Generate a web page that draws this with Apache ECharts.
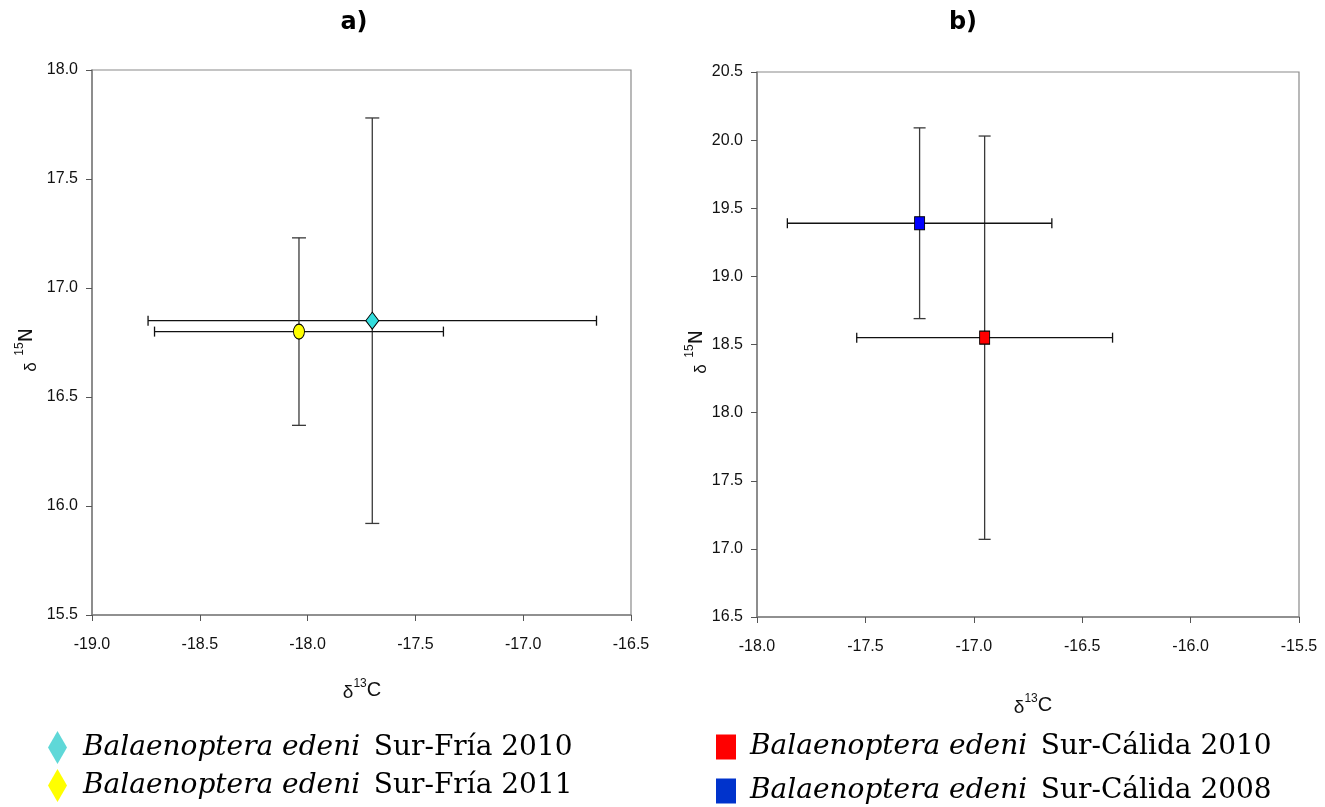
<!DOCTYPE html>
<html>
<head>
<meta charset="utf-8">
<title>Balaenoptera edeni δ13C / δ15N</title>
<script src="https://cdn.jsdelivr.net/npm/echarts@6/dist/echarts.min.js"></script>
<style>
  html, body { margin: 0; padding: 0; background: #fff; }
  #chart { width: 1325px; height: 807px; }
</style>
</head>
<body>
<div id="chart"></div>
<script>
// Group labels
const speciesName = 'Balaenoptera edeni';
const groupsA = ['Sur-Fría 2010', 'Sur-Fría 2011'];
const groupsB = ['Sur-Cálida 2010', 'Sur-Cálida 2008'];

// Means and standard deviations: [δ13C, δ15N, sd δ13C, sd δ15N]
const friaA2010 = [-17.70, 16.85, 1.04, 0.93];
const friaA2011 = [-18.04, 16.80, 0.67, 0.43];
const calidaB2010 = [-16.95, 18.55, 0.59, 1.48];
const calidaB2008 = [-17.25, 19.39, 0.61, 0.70];

// Axis ranges [min, max, step]
const xRangeA = [-19.0, -16.5, 0.5];
const yRangeA = [15.5, 18.0, 0.5];
const xRangeB = [-18.0, -15.5, 0.5];
const yRangeB = [16.5, 20.5, 0.5];

const tickFont = '"Liberation Sans Narrow", "Arial Narrow", "Liberation Sans", Arial, sans-serif';
const serifFont = '"DejaVu Serif", "Bookman Old Style", serif';

const chart = echarts.init(document.getElementById('chart'));

function fullName(g) { return speciesName + ' ' + g; }

function valueAxis(range, gridIndex, margin) {
  return {
    type: 'value',
    gridIndex: gridIndex,
    min: range[0],
    max: range[1],
    interval: range[2],
    splitLine: { show: false },
    axisLine: { show: true, lineStyle: { color: '#7f7f7f', width: 1.5 } },
    axisTick: { show: true, length: 6, lineStyle: { color: '#555', width: 1 } },
    axisLabel: {
      color: '#111',
      fontFamily: tickFont,
      fontSize: 16,
      margin: margin,
      formatter: v => v.toFixed(1)
    }
  };
}

// Cross-shaped error bars with end caps
function errorBars(gridIndex, row, capH, capV) {
  return {
    type: 'custom',
    name: 'sd',
    xAxisIndex: gridIndex,
    yAxisIndex: gridIndex,
    z: 2,
    silent: true,
    data: [row],
    renderItem: function (params, api) {
      const x = api.value(0), y = api.value(1), ex = api.value(2), ey = api.value(3);
      const l = api.coord([x - ex, y]);
      const r = api.coord([x + ex, y]);
      const t = api.coord([x, y + ey]);
      const b = api.coord([x, y - ey]);
      const h = { stroke: '#111', lineWidth: 1.3 };
      const v = { stroke: '#3a3a3a', lineWidth: 1.3 };
      return {
        type: 'group',
        children: [
          { type: 'line', shape: { x1: l[0], y1: l[1], x2: r[0], y2: r[1] }, style: h },
          { type: 'line', shape: { x1: l[0], y1: l[1] - capH, x2: l[0], y2: l[1] + capH }, style: h },
          { type: 'line', shape: { x1: r[0], y1: r[1] - capH, x2: r[0], y2: r[1] + capH }, style: h },
          { type: 'line', shape: { x1: t[0], y1: t[1], x2: b[0], y2: b[1] }, style: v },
          { type: 'line', shape: { x1: t[0] - capV, y1: t[1], x2: t[0] + capV, y2: t[1] }, style: v },
          { type: 'line', shape: { x1: b[0] - capV, y1: b[1], x2: b[0] + capV, y2: b[1] }, style: v }
        ]
      };
    }
  };
}

function meanPoint(gridIndex, name, row, symbol, size, color) {
  return {
    type: 'scatter',
    name: name,
    xAxisIndex: gridIndex,
    yAxisIndex: gridIndex,
    z: 5,
    symbol: symbol,
    symbolSize: size,
    itemStyle: { color: color, borderColor: '#000', borderWidth: 1, opacity: 1 },
    data: [[row[0], row[1]]]
  };
}

const ellipse = 'path://M0,-1A1,1 0 1,1 0,1A1,1 0 1,1 0,-1z';

const legendRich = {
  i: { fontFamily: serifFont, fontStyle: 'italic', fontSize: 28, lineHeight: 30, color: '#000' },
  r: { fontFamily: serifFont, fontSize: 28, lineHeight: 30, color: '#000', padding: [0, 0, 0, 7] }
};

function legendFormatter(name) {
  const g = name.slice(speciesName.length + 1);
  return '{i|' + speciesName + '}  {r|' + g + '}';
}

const axisNameRich = {
  d: { fontFamily: tickFont, fontSize: 19, verticalAlign: 'bottom', lineHeight: 24, fill: '#111' },
  s: { fontFamily: tickFont, fontSize: 12, verticalAlign: 'top', lineHeight: 24, fill: '#111' },
  n: { fontFamily: tickFont, fontSize: 20, verticalAlign: 'middle', lineHeight: 24, fill: '#111' }
};
const yNameRich = {
  d: { fontFamily: tickFont, fontSize: 17, verticalAlign: 'bottom', lineHeight: 26, fill: '#111' },
  s: { fontFamily: tickFont, fontSize: 12, verticalAlign: 'top', lineHeight: 26, fill: '#111' },
  n: { fontFamily: '"DejaVu Sans", sans-serif', fontSize: 19, verticalAlign: 'middle', lineHeight: 26, fill: '#111' }
};

const titleStyle = { fontFamily: '"DejaVu Sans", sans-serif', fontWeight: 'bold', fontSize: 24, color: '#000' };

const option = {
  backgroundColor: '#fff',
  animation: false,
  title: [
    { text: 'a)', left: 349, top: 6, textAlign: 'center', textStyle: titleStyle },
    { text: 'b)', left: 958, top: 6, textAlign: 'center', textStyle: titleStyle }
  ],
  grid: [
    { left: 92, top: 70, right: 694, bottom: 192, show: true, borderColor: '#8a8a8a', borderWidth: 1.2 },
    { left: 757, top: 72, right: 26, bottom: 190, show: true, borderColor: '#8a8a8a', borderWidth: 1.2 }
  ],
  xAxis: [valueAxis(xRangeA, 0, 22), valueAxis(xRangeB, 1, 22)],
  yAxis: [valueAxis(yRangeA, 0, 14), valueAxis(yRangeB, 1, 14)],
  legend: [
    {
      orient: 'vertical', left: 48, top: 731, padding: 0,
      itemWidth: 19, itemHeight: 33, itemGap: 5,
      selectedMode: false,
      formatter: legendFormatter,
      textStyle: { rich: legendRich, lineHeight: 30, padding: [0, 0, 0, 11] },
      data: [
        { name: fullName(groupsA[0]), icon: 'diamond', itemStyle: { color: '#5fd8d8', borderWidth: 0 } },
        { name: fullName(groupsA[1]), icon: 'diamond', itemStyle: { color: '#ffff00', borderWidth: 0 } }
      ]
    },
    {
      orient: 'vertical', left: 716, top: 732, padding: 0,
      itemWidth: 20, itemHeight: 25, itemGap: 14,
      selectedMode: false,
      formatter: legendFormatter,
      textStyle: { rich: legendRich, lineHeight: 30, padding: [0, 0, 0, 9] },
      data: [
        { name: fullName(groupsB[0]), icon: 'rect', itemStyle: { color: '#ff0000', borderWidth: 0 } },
        { name: fullName(groupsB[1]), icon: 'rect', itemStyle: { color: '#0033cc', borderWidth: 0 } }
      ]
    }
  ],
  graphic: [
    { type: 'text', x: 362, y: 690,
      style: { text: '{d|δ}{s|13}{n|C}', align: 'center', verticalAlign: 'middle', rich: axisNameRich } },
    { type: 'text', x: 1033, y: 705,
      style: { text: '{d|δ}{s|13}{n|C}', align: 'center', verticalAlign: 'middle', rich: axisNameRich } },
    { type: 'text', x: 27, y: 350, rotation: Math.PI / 2,
      style: { text: '{d|δ}  {s|15}{n|N}', align: 'center', verticalAlign: 'middle', rich: yNameRich } },
    { type: 'text', x: 697, y: 352, rotation: Math.PI / 2,
      style: { text: '{d|δ}  {s|15}{n|N}', align: 'center', verticalAlign: 'middle', rich: yNameRich } }
  ],
  series: [
    errorBars(0, friaA2010, 5, 7),
    errorBars(0, friaA2011, 5, 7),
    meanPoint(0, fullName(groupsA[0]), friaA2010, 'diamond', [13, 17], '#33dddd'),
    meanPoint(0, fullName(groupsA[1]), friaA2011, ellipse, [11, 15], '#ffff00'),
    errorBars(1, calidaB2010, 5, 6),
    errorBars(1, calidaB2008, 5, 6),
    meanPoint(1, fullName(groupsB[0]), calidaB2010, 'rect', [10, 13], '#ff0000'),
    meanPoint(1, fullName(groupsB[1]), calidaB2008, 'rect', [10, 13], '#0000ff')
  ]
};

chart.setOption(option);
</script>
</body>
</html>
